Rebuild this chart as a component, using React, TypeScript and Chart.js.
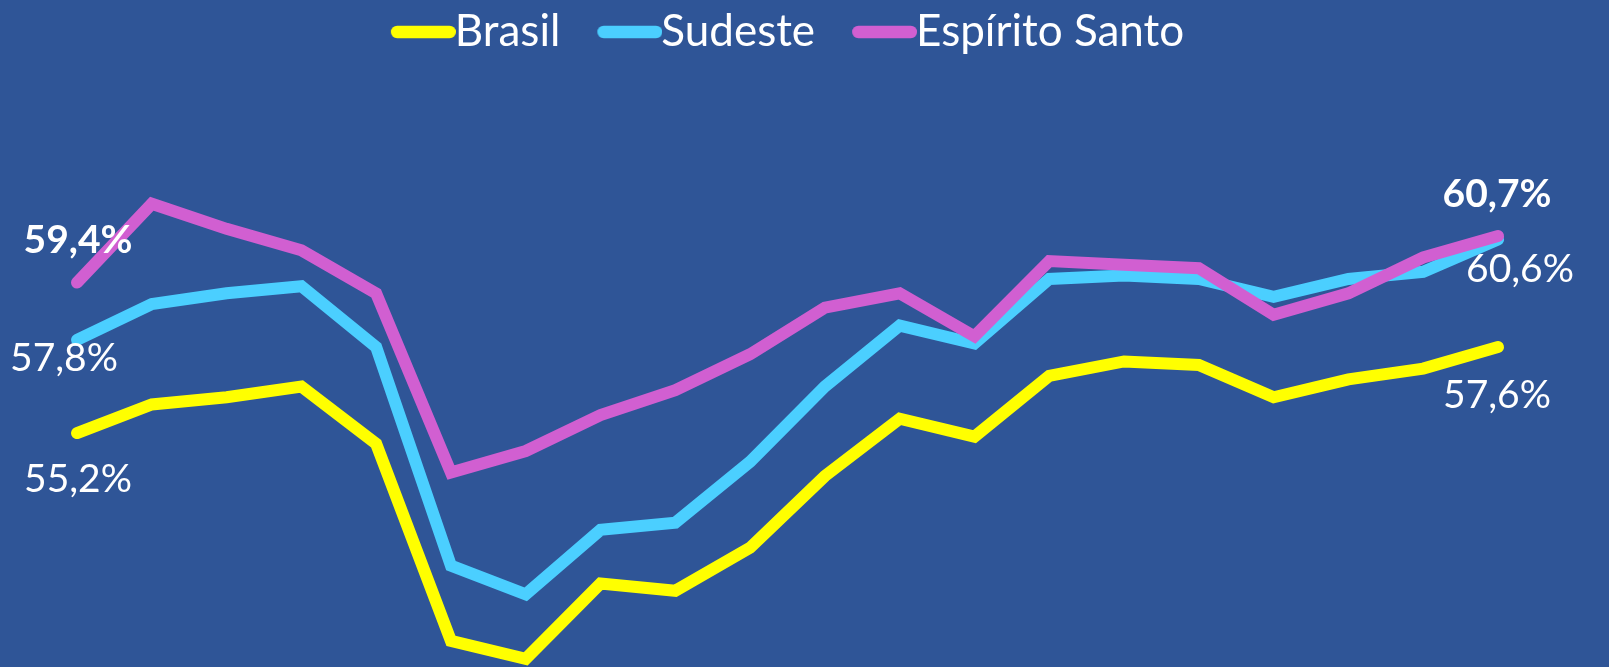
import React, { useEffect, useRef } from "react";
import { Chart, registerables } from "chart.js";

Chart.register(...registerables);

// ---- Data ----
const periods = [
  "1º tri 2019", "2º tri 2019", "3º tri 2019", "4º tri 2019",
  "1º tri 2020", "2º tri 2020", "3º tri 2020", "4º tri 2020",
  "1º tri 2021", "2º tri 2021", "3º tri 2021", "4º tri 2021",
  "1º tri 2022", "2º tri 2022", "3º tri 2022", "4º tri 2022",
  "1º tri 2023", "2º tri 2023", "3º tri 2023", "4º tri 2023",
];
const seriesNames = ["Brasil", "Sudeste", "Espírito Santo"];
const brasil = [55.2, 56.0, 56.2, 56.5, 54.9, 49.4, 48.9, 51.0, 50.8, 52.0, 54.0, 55.6, 55.1, 56.8, 57.2, 57.1, 56.2, 56.7, 57.0, 57.6];
const sudeste = [57.8, 58.8, 59.1, 59.3, 57.6, 51.5, 50.7, 52.5, 52.7, 54.4, 56.5, 58.2, 57.7, 59.5, 59.6, 59.5, 59.0, 59.5, 59.7, 60.6];
const espiritoSanto = [59.4, 61.6, 60.9, 60.3, 59.1, 54.1, 54.7, 55.7, 56.4, 57.4, 58.7, 59.1, 57.9, 60.0, 59.9, 59.8, 58.5, 59.1, 60.1, 60.7];

// ---- Styles ----
const BG = "#2F5597";
const COLORS = ["#FFFF00", "#4BCFFF", "#D15FD1"];
const FONT = "Lato, 'Open Sans', sans-serif";

// end labels: dataset index, point index, offset, bold
const endLabels = [
  { ds: 2, idx: 0, dx: 1, dy: -42, bold: true },
  { ds: 1, idx: 0, dx: -13, dy: 19, bold: false },
  { ds: 0, idx: 0, dx: 1, dy: 46, bold: false },
  { ds: 2, idx: -1, dx: -1, dy: -42, bold: true },
  { ds: 1, idx: -1, dx: 22, dy: 30, bold: false },
  { ds: 0, idx: -1, dx: -1, dy: 48, bold: false },
];

function fmt(v: number) {
  return v.toFixed(1).replace(".", ",") + "%";
}

// legend swatch: a thick rounded line that runs up to the label text
function makeSwatch(color: string) {
  const c = document.createElement("canvas");
  c.width = 88;
  c.height = 14;
  const g = c.getContext("2d")!;
  g.strokeStyle = color;
  g.lineWidth = 12.5;
  g.lineCap = "round";
  g.beginPath();
  g.moveTo(29.25, 7);
  g.lineTo(81.75, 7);
  g.stroke();
  return c;
}

const endLabelPlugin = {
  id: "endLabelPlugin",
  afterDatasetsDraw(chart: any) {
    const ctx = chart.ctx;
    ctx.save();
    ctx.fillStyle = "#FFFFFF";
    ctx.textAlign = "center";
    ctx.textBaseline = "middle";
    endLabels.forEach((l) => {
      const meta = chart.getDatasetMeta(l.ds);
      const data = chart.data.datasets[l.ds].data as number[];
      const i = l.idx < 0 ? data.length + l.idx : l.idx;
      const pt = meta.data[i];
      ctx.font = `${l.bold ? "bold " : ""}39px ${FONT}`;
      ctx.fillText(fmt(data[i]), pt.x + l.dx, pt.y + l.dy);
    });
    ctx.restore();
  },
};

export default function App() {
  const ref = useRef<HTMLCanvasElement | null>(null);

  useEffect(() => {
    document.body.style.margin = "0";
    document.body.style.background = BG;
    let chart: Chart | null = null;
    let cancelled = false;

    const build = () => {
      if (cancelled || !ref.current) return;
      const seriesData = [brasil, sudeste, espiritoSanto];
      chart = new Chart(ref.current, {
        type: "line",
        data: {
          labels: periods,
          datasets: seriesData.map((d, i) => ({
            label: seriesNames[i],
            data: d,
            borderColor: COLORS[i],
            backgroundColor: COLORS[i],
            borderWidth: 12,
            borderCapStyle: "round" as const,
            borderJoinStyle: "miter" as const,
            pointRadius: 0,
            pointHoverRadius: 0,
            pointStyle: makeSwatch(COLORS[i]) as any,
            tension: 0,
            fill: false,
            clip: false as any,
            order: 2 - i,
          })),
        },
        options: {
          animation: false,
          responsive: false,
          maintainAspectRatio: false,
          layout: { padding: { left: 77, right: 111, top: -27, bottom: 1 } },
          scales: {
            x: { display: false, offset: false },
            y: { display: false, min: 48.7, max: 65.5 },
          },
          plugins: {
            tooltip: { enabled: false },
            legend: {
              display: true,
              position: "top",
              align: "center",
              labels: {
                usePointStyle: true,
                pointStyleWidth: 42,
                boxHeight: 14,
                padding: 37,
                color: "#FFFFFF",
                font: { family: FONT, size: 44 },
                sort: (a: any, b: any) => a.datasetIndex - b.datasetIndex,
              },
            },
          },
        },
        plugins: [endLabelPlugin],
      });
    };

    const f = (document as any).fonts;
    if (f && f.load) {
      Promise.all([f.load(`44px Lato`), f.load(`bold 39px Lato`), f.load(`39px Lato`)])
        .catch(() => {})
        .then(build);
    } else {
      build();
    }

    return () => {
      cancelled = true;
      if (chart) chart.destroy();
    };
  }, []);

  return (
    <div style={{ width: 1609, height: 667, background: BG }}>
      <canvas ref={ref} width={1609} height={667} style={{ display: "block" }} />
    </div>
  );
}
